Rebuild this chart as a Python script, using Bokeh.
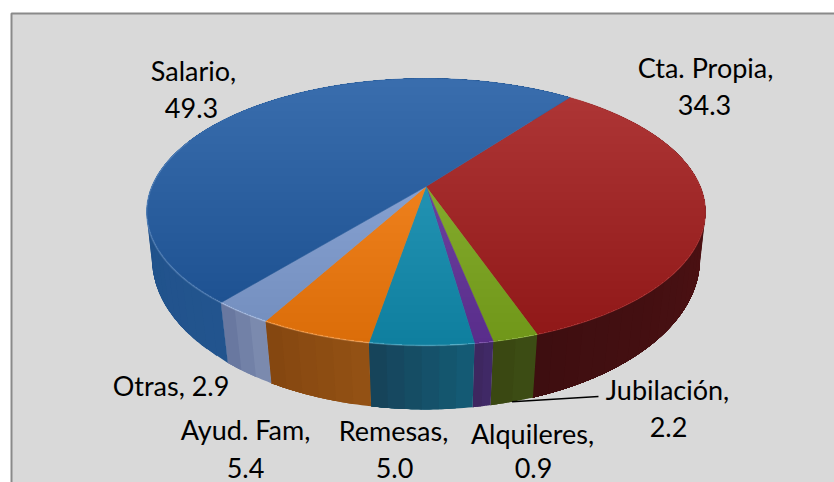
import numpy as np
from bokeh.plotting import figure
from bokeh.embed import file_html
from bokeh.resources import INLINE
from bokeh.core.properties import value

# ---- chart data ----
categories = ["Cta. Propia", "Jubilación", "Alquileres", "Remesas", "Ayud. Fam", "Otras", "Salario"]
values = [34.3, 2.2, 0.9, 5.0, 5.4, 2.9, 49.3]

# ---- styles ----
top_colors = [(176, 56, 56), (145, 184, 58), (122, 78, 172), (48, 160, 192),
              (252, 142, 42), (147, 174, 222), (58, 110, 174)]
side_left = [(62, 14, 16), (62, 78, 20), (66, 42, 104), (20, 92, 118),
             (148, 82, 20), (128, 142, 178), (34, 84, 142)]
side_right = [(92, 20, 22), (56, 70, 18), (60, 38, 94), (22, 66, 88),
              (132, 70, 16), (100, 116, 156), (30, 76, 130)]

W, H = 834, 482
p = figure(width=W, height=H, x_range=(0, W), y_range=(H, 0),
           output_backend="svg", toolbar_location=None, min_border=0,
           outline_line_color=None, background_fill_color="white",
           border_fill_color="white")
p.axis.visible = False
p.grid.visible = False

p.quad(left=[11], right=[W + 4], top=[13], bottom=[H + 4],
       fill_color="#d9d9d9", line_color="#8a8a8a", line_width=2)

# perspective projection of the pie disc (angle clockwise from the back)
START = 37.1
K_T, R_T, S_T, X0, Y_T = 0.191, 274.3, 128.6, 425.5, 186.0
K_B, R_B, S_B, Y_B = 0.17, 270.0, 146.0, 233.0


def proj(deg, k, r, s, y0):
    t = np.radians(deg)
    u, v = np.sin(t), -np.cos(t)
    d = 1 - k * v
    return X0 + r * u / d, y0 + s * v / d


def top(deg):
    return proj(deg, K_T, R_T, S_T, Y_T)


def bottom(deg):
    return proj(deg, K_B, R_B, S_B, Y_B)


def hex_of(c):
    return "#%02x%02x%02x" % tuple(int(round(x)) for x in c)


edges = START + np.concatenate([[0], np.cumsum(values)]) * 3.6

# side wall, one slice at a time, as overlapping strips so no seams show
for i in range(len(values)):
    a0, a1 = edges[i], edges[i + 1]
    n = max(2, int((a1 - a0) / 3))
    for j in range(n):
        b0 = a0 + (a1 - a0) * j / n
        f = (j + 0.5) / n
        col = [side_left[i][c] + (side_right[i][c] - side_left[i][c]) * f for c in range(3)]
        if i == 0:  # the red wall runs from its right end to the left
            col = [side_right[i][c] + (side_left[i][c] - side_right[i][c]) * f for c in range(3)]
        t = np.linspace(b0, a1, 24)
        tx, ty = top(t)
        bx, by = bottom(t)
        p.patch(np.concatenate([tx, bx[::-1]]), np.concatenate([ty, by[::-1]]),
                fill_color=hex_of(col), line_color=None)

# top face wedges
for i in range(len(values)):
    a = np.linspace(edges[i], edges[i + 1], max(3, int(values[i] * 8)))
    x, y = top(a)
    xs = np.concatenate([[X0], x])
    ys = np.concatenate([[Y_T], y])
    col = hex_of(top_colors[i])
    p.patch(xs, ys, fill_color=col, line_color=col, line_width=0.6)

# darkening of the top face toward the viewer
rim_x, rim_y = top(np.linspace(0, 360, 361))
levels = np.linspace(rim_y.min(), rim_y.max(), 34)[:-1]
step = 1 - 0.85 ** (1 / len(levels))
for lv in levels:
    p.patch(rim_x, np.maximum(rim_y, lv), fill_color="black", fill_alpha=step, line_color=None)

# lighter rim on the front-left edge
ax, ay = top(np.linspace(173, 292, 120))
p.line(ax, ay, line_color="white", line_alpha=0.12, line_width=2)

# labels
label_font = value("Lato")
SIZE = "27px"
label_lines = []
pos = {
    "Salario": ((193, 70), (191, 107)),
    "Cta. Propia": ((705, 67), (704, 104)),
    "Ayud. Fam": ((245, 429), (245, 467)),
    "Remesas": ((393, 430), (394, 467)),
    "Alquileres": ((532, 433), (533, 467)),
    "Jubilación": ((667, 389), (668, 426)),
}
for cat, val in zip(categories, values):
    if cat in pos:
        (x1, y1), (x2, y2) = pos[cat]
        label_lines.append((x1, y1, f"{cat},"))
        label_lines.append((x2, y2, f"{val:.1f}"))
    else:
        label_lines.append((174, 385, f"{cat},  {val:.1f}"))
p.text(x=[l[0] for l in label_lines], y=[l[1] for l in label_lines], text=[l[2] for l in label_lines],
       text_font=label_font, text_font_size=SIZE, text_color="black",
       text_align="center", text_baseline="alphabetic")

# leader of Jubilación, from the middle of its wall
jub = categories.index("Jubilación")
lx, ly = bottom((edges[jub] + edges[jub + 1]) / 2)
p.line([lx, 598], [ly, 396], line_color="black", line_width=1.5)

open("out.html", "w").write(file_html(p, INLINE))
